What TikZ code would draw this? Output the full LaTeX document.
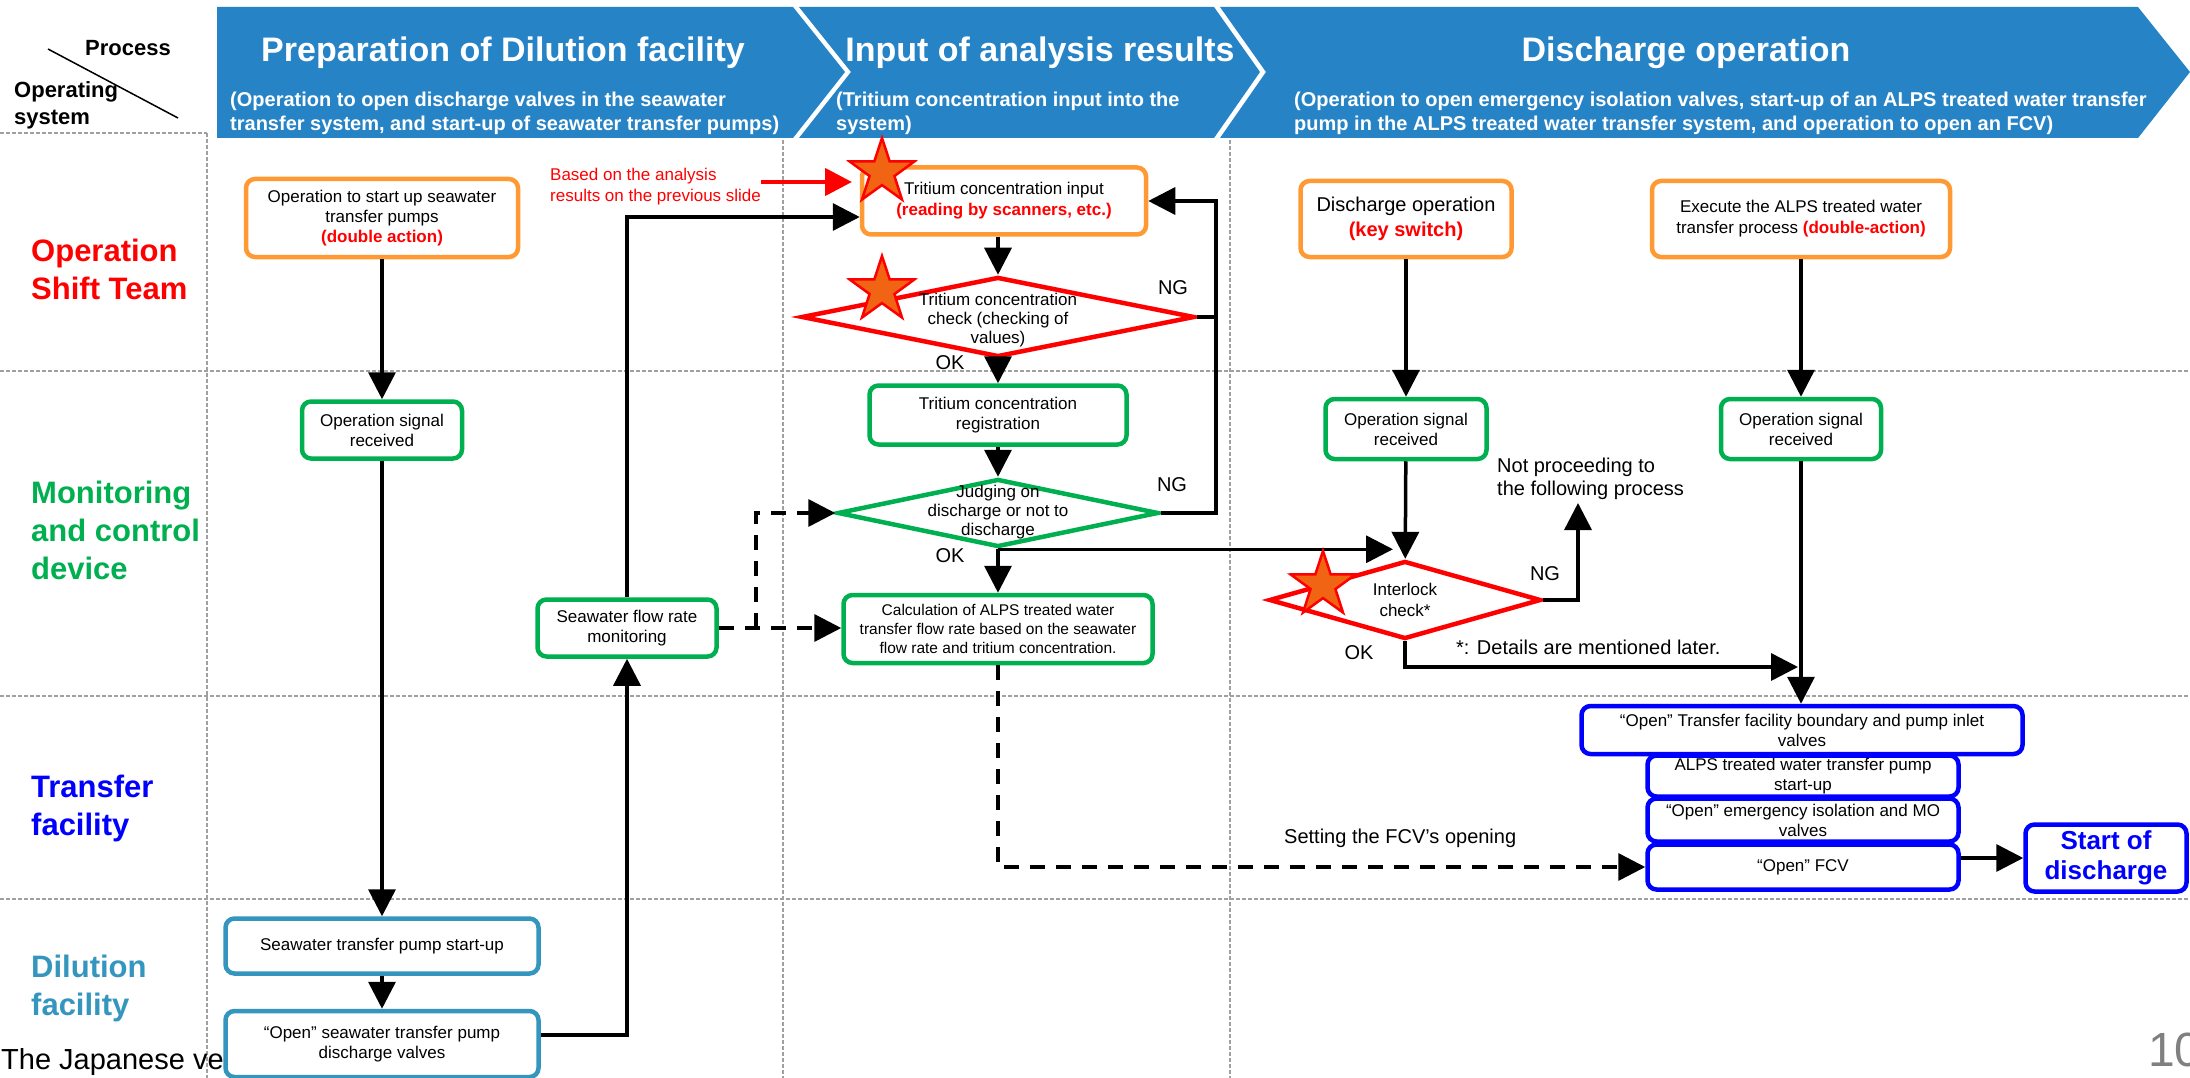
\documentclass[tikz,border=0pt]{standalone}
\usepackage{fontspec}
\setmainfont{Liberation Sans}
\usetikzlibrary{arrows.meta,shapes.geometric,calc}
\definecolor{hdrblue}{RGB}{38,131,198}
\definecolor{opgreen}{RGB}{0,176,80}
\definecolor{oporange}{RGB}{255,153,51}
\definecolor{dilteal}{RGB}{52,150,190}
\definecolor{tfblue}{RGB}{0,0,255}
\definecolor{starfill}{RGB}{240,100,20}
\definecolor{sepgray}{RGB}{160,160,160}
\newcommand{\pxfont}[2]{\fontsize{#1}{#2}\selectfont}

\begin{document}
\begin{tikzpicture}[x=1pt, y=-1pt,
    opbox/.style={draw=#1, fill=white, line width=4.5pt, rounded corners=9pt,
        align=center, inner sep=0pt, font=\pxfont{17}{20}},
    boxsz/.style 2 args={minimum width=#1pt, minimum height=#2pt},
    chkshape/.style={diamond, draw=#1, fill=white, line width=4.5pt, inner sep=0pt},
    dtext/.style={align=center, inner sep=0pt, font=\pxfont{17}{19}},
    flow/.style={line width=3.5pt, -{Triangle[length=27pt,width=27pt]}},
    dflow/.style={flow, dash pattern=on 15pt off 11pt},
    sepline/.style={draw=sepgray, line width=1.3pt, dash pattern=on 4pt off 2pt},
    lane/.style={anchor=west, align=left, inner sep=0pt, font=\bfseries\pxfont{31}{38}},
    hdtitle/.style={text=white, inner sep=0pt, font=\bfseries\pxfont{34}{40}},
    hdsub/.style={anchor=west, text=white, align=left, inner sep=0pt, font=\bfseries\pxfont{20}{24}},
    note/.style={inner sep=0pt, font=\pxfont{20}{23}},
    starmark/.style={star, star points=5, star point ratio=2.6, minimum size=68pt,
        inner sep=0pt, draw=red, fill=starfill, line width=2.5pt}]
\useasboundingbox (0,0) rectangle (2190,1078);
\clip (0,0) rectangle (2190,1078);
\fill[white] (0,0) rectangle (2190,1078);

% swimlane grid
\draw[sepline] (0,371) -- (2190,371);
\draw[sepline] (0,696) -- (2190,696);
\draw[sepline] (0,899) -- (2190,899);
\draw[sepline] (0,133) -- (207,133);
\foreach \cx/\cy in {207/133, 783/140, 1230/140}
    \draw[sepline] (\cx,\cy) -- (\cx,1078);

% process chevrons
\fill[hdrblue] (217,7) -- (793,7) -- (845,72) -- (793,138) -- (217,138) -- cycle;
\fill[hdrblue] (799,7) -- (1214,7) -- (1260,72) -- (1214,138) -- (799,138) -- (851,72) -- cycle;
\fill[hdrblue] (1220,7) -- (2138,7) -- (2190,72) -- (2138,138) -- (1220,138) -- (1266,72) -- cycle;
\node[hdtitle] (h1) at (503,53) {Preparation of Dilution facility};
\node[hdtitle] (h2) at (1040,53) {Input of analysis results};
\node[hdtitle] (h3) at (1686,53) {Discharge operation};
\node[hdsub] (h1s) at (230,113) {(Operation to open discharge valves in the seawater\\transfer system, and start-up of seawater transfer pumps)};
\node[hdsub] (h2s) at (836,113) {(Tritium concentration input into the\\system)};
\node[hdsub] (h3s) at (1294,113) {(Operation to open emergency isolation valves, start-up of an ALPS treated water transfer\\pump in the ALPS treated water transfer system, and operation to open an FCV)};

% corner cell
\node[inner sep=0pt, font=\bfseries\pxfont{22}{27}] (proc) at (128,48) {Process};
\node[anchor=west, align=left, inner sep=0pt, font=\bfseries\pxfont{22}{27}] (opsys) at (14,105) {Operating\\system};
\draw[line width=1.5pt] (48,49) -- (178,118);

% lane names
\node[lane, text=red] (lnshift) at (31,269) {Operation\\Shift Team};
\node[lane, text=opgreen] (lnmon) at (31,530) {Monitoring\\and control\\device};
\node[lane, text=tfblue] (lntf) at (31,808) {Transfer\\facility};
\node[lane, text=dilteal] (lndil) at (31,988) {Dilution\\facility};
\node[anchor=west, inner sep=0pt, font=\pxfont{29}{32}] (jpn) at (1,1062) {The Japanese ve};
\node[anchor=west, inner sep=0pt, text=gray, font=\pxfont{48}{50}] (pgno) at (2148,1050) {10};

% preparation of dilution facility
\node[opbox=oporange, boxsz={272}{78}] (op1) at (382,218) {Operation to start up seawater\\transfer pumps\\\textcolor{red}{\bfseries(double action)}};
\node[opbox=opgreen, boxsz={160}{57}] (sig1) at (382,430) {Operation signal\\received};
\node[opbox=dilteal, boxsz={313}{55}] (pst) at (382,946) {Seawater transfer pump start-up};
\node[opbox=dilteal, boxsz={313}{66}] (vlv) at (382,1044) {“Open” seawater transfer pump\\discharge valves};
\node[opbox=opgreen, boxsz={179}{57}] (mon) at (627,628) {Seawater flow rate\\monitoring};

% input of analysis results
\node[opbox=oporange, boxsz={284}{67}, font=\pxfont{17}{21}] (inp) at (1004,201) {Tritium concentration input\\\textcolor{red}{\bfseries(reading by scanners, etc.)}};
\node[chkshape=red, boxsz={393}{80}] (chk) at (998,317) {};
\node[dtext] (chktxt) at (998,320) {Tritium concentration\\check (checking of\\values)};
\node[opbox=opgreen, boxsz={257}{59}] (reg) at (998,415) {Tritium concentration\\registration};
\node[chkshape=opgreen, boxsz={321}{68}] (jdg) at (998,513) {};
\node[dtext] (jdgtxt) at (998,512) {Judging on\\discharge or not to\\discharge};
\node[opbox=opgreen, boxsz={309}{68}, font=\pxfont{15.5}{19}] (calc) at (998,629) {Calculation of ALPS treated water\\transfer flow rate based on the seawater\\flow rate and tritium concentration.};
\node[anchor=west, align=left, inner sep=0pt, text=red, font=\pxfont{17}{21}] (basis) at (550,187) {Based on the analysis\\results on the previous slide};

% discharge operation
\node[opbox=oporange, boxsz={211}{76}, font=\pxfont{20}{25}] (dop) at (1406,219) {Discharge operation\\\textcolor{red}{\bfseries(key switch)}};
\node[opbox=oporange, boxsz={298}{76}, font=\pxfont{17}{21}] (exe) at (1801,219) {Execute the ALPS treated water\\transfer process \textcolor{red}{\bfseries(double-action)}};
\node[opbox=opgreen, boxsz={161}{60}] (sig2) at (1406,429) {Operation signal\\received};
\node[opbox=opgreen, boxsz={160}{60}] (sig3) at (1801,429) {Operation signal\\received};
\node[chkshape=red, boxsz={272}{78}] (ilk) at (1405,600) {};
\node[dtext, font=\pxfont{17}{21}] (ilktxt) at (1405,600) {Interlock\\check*};
\node[opbox=tfblue, boxsz={441}{48}] (tA) at (1802,730) {“Open” Transfer facility boundary and pump inlet\\valves};
\node[opbox=tfblue, boxsz={311}{41}] (tB) at (1803,776) {ALPS treated water transfer pump\\start-up};
\node[opbox=tfblue, boxsz={311}{43}] (tC) at (1803,820) {“Open” emergency isolation and MO\\valves};
\node[opbox=tfblue, boxsz={311}{45}] (tD) at (1803,867) {“Open” FCV};
\node[opbox=tfblue, boxsz={161}{67}, text=tfblue, font=\bfseries\pxfont{26}{30}] (start) at (2106,858) {Start of\\discharge};

% branch labels
\node[note] (ng1) at (1173,288) {NG};
\node[note] (ok1) at (950,363) {OK};
\node[note] (ng2) at (1172,485) {NG};
\node[note] (ok2) at (950,556) {OK};
\node[note] (ng3) at (1545,574) {NG};
\node[note] (ok3) at (1359,653) {OK};
\node[note, anchor=west, align=left] (notproc) at (1497,479) {Not proceeding to\\the following process};
\node[note, anchor=west] (later) at (1456,647) {*: Details are mentioned later.};
\node[note, anchor=west] (fcvset) at (1284,838) {Setting the FCV’s opening};

% connectors
\coordinate (loopx) at (1216,0);
\coordinate (dsplit) at (756,0);
\coordinate (redtip) at (852,182);
\coordinate (stopend) at (1578,503);
\coordinate (okend) at (1798,667);
\draw[flow] (op1) -- (sig1);
\draw[flow] (sig1) -- (pst);
\draw[flow] (pst) -- (vlv);
\draw[flow] ([yshift=9pt]vlv.east) -| (mon.south);
\draw[flow] (mon.north) |- ([yshift=-16pt]inp.west);
\draw[flow, red, line width=4.5pt] (basis.east |- redtip) -- (redtip);
\draw[flow] (inp.south -| chk.north) -- (chk.north);
\draw[flow] (chk) -- (reg);
\draw[flow] (reg) -- (jdg);
\draw[flow] (jdg) -- (calc);
\draw[line width=3.5pt] (chk.east) -- (chk.east -| loopx);
\draw[flow] (jdg.east) -- (jdg.east -| loopx) |- (inp.east);
\draw[flow] (jdg.south) -- ([xshift=-12pt]jdg.south -| ilk.north);
\draw[dflow] (mon.east) -- (mon.east -| calc.west);
\draw[dflow] (mon.east -| dsplit) |- (jdg.west);
\draw[dflow] (calc.south) |- (tD.west);
\draw[flow] (dop) -- (sig2);
\draw[flow] (sig2) -- (ilk);
\draw[flow] (ilk.east) -| (stopend);
\draw[flow] (ilk.south) |- (okend);
\draw[flow] (exe) -- (sig3);
\draw[flow] (sig3.south) -- (sig3.south |- tA.north);
\draw[flow] (tD.east |- start.west) -- (start.west);

% check marks
\node[starmark] (star1) at (882,172) {};
\node[starmark] (star2) at (882,290) {};
\node[starmark] (star3) at (1323,585) {};
\end{tikzpicture}
\end{document}
